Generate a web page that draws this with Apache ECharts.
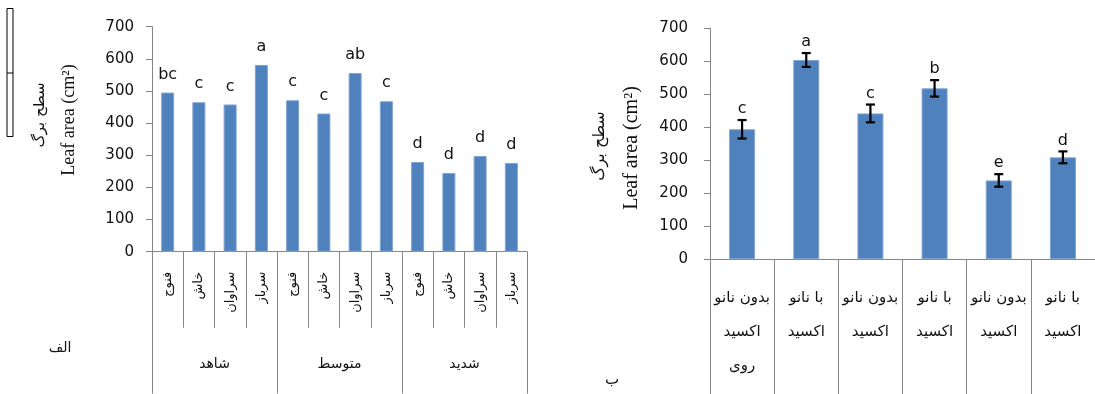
<!DOCTYPE html>
<html>
<head>
<meta charset="utf-8">
<script src="https://cdn.jsdelivr.net/npm/echarts@6/dist/echarts.min.js"></script>
<style>
  html, body { margin: 0; padding: 0; background: #ffffff; }
  #chart { width: 1095px; height: 394px; }
</style>
</head>
<body>
<div id="chart"></div>
<script>
// Panel A: leaf area of four ecotypes under three drought levels
const ecotypes = ['فنوج', 'خاش', 'سراوان', 'سرباز',
                  'فنوج', 'خاش', 'سراوان', 'سرباز',
                  'فنوج', 'خاش', 'سراوان', 'سرباز'];
const stressLevels = ['شاهد', 'متوسط', 'شدید'];
const leafAreaA = [495, 465, 458, 581, 471, 430, 556, 468, 279, 245, 298, 276];
const lettersA = ['bc', 'c', 'c', 'a', 'c', 'c', 'ab', 'c', 'd', 'd', 'd', 'd'];

// Panel B: leaf area with / without zinc oxide nanoparticles
const treatments = ['بدون نانو\nاکسید\nروی', 'با نانو\nاکسید', 'بدون نانو\nاکسید',
                    'با نانو\nاکسید', 'بدون نانو\nاکسید', 'با نانو\nاکسید'];
const leafAreaB = [394, 604, 442, 518, 239, 309];
const errorB = [28, 21, 27, 25, 19, 18];
const lettersB = ['c', 'a', 'c', 'b', 'e', 'd'];

// Value axis settings shared by both panels
const yMin = 0, yMax = 700, yStep = 100;

const AXIS = '#868686';
const BAR = '#4f81bd';
const TEXT = '#111111';
const NUM_FONT = 'DejaVu Sans';
const FA_FONT = 'DejaVu Sans';
const EN_FONT = 'Liberation Serif';

const chart = echarts.init(document.getElementById('chart'), null, { renderer: 'canvas' });

function valueAxis(gridIndex, margin) {
  return {
    type: 'value', gridIndex, min: yMin, max: yMax, interval: yStep,
    axisLine: { show: true, lineStyle: { color: AXIS, width: 1 } },
    axisTick: { show: true, length: 6, lineStyle: { color: AXIS } },
    splitLine: { show: false },
    axisLabel: { color: TEXT, fontFamily: NUM_FONT, fontSize: 15, margin }
  };
}

const option = {
  animation: false,
  backgroundColor: '#ffffff',
  grid: [
    { left: 152, top: 26.7, width: 375, height: 225 },
    { left: 710, top: 28.3, width: 392.4, height: 231 }
  ],
  xAxis: [
    {
      type: 'category', gridIndex: 0, data: ecotypes,
      axisLine: { show: true, lineStyle: { color: AXIS } },
      axisTick: { show: true, interval: 0, length: 76, lineStyle: { color: AXIS } },
      axisLabel: { interval: 0, rotate: 90, margin: 20, color: TEXT,
                   fontFamily: FA_FONT, fontSize: 13 }
    },
    {
      type: 'category', gridIndex: 0, data: stressLevels, position: 'bottom',
      axisLine: { show: false },
      axisTick: { show: true, interval: 0, length: 142, lineStyle: { color: AXIS } },
      axisLabel: { interval: 0, margin: 106, color: TEXT,
                   fontFamily: FA_FONT, fontSize: 14 }
    },
    {
      type: 'category', gridIndex: 1, data: treatments,
      axisLine: { show: true, lineStyle: { color: AXIS } },
      axisTick: { show: true, interval: 0, length: 135, lineStyle: { color: AXIS } },
      axisLabel: { interval: 0, margin: 22, color: TEXT, lineHeight: 34,
                   fontFamily: FA_FONT, fontSize: 15 }
    }
  ],
  yAxis: [valueAxis(0, 18), valueAxis(1, 22)],
  series: [
    {
      type: 'bar', xAxisIndex: 0, yAxisIndex: 0, data: leafAreaA, barWidth: 13,
      itemStyle: { color: BAR, borderColor: '#7fa3d1', borderWidth: 1 },
      label: {
        show: true, position: 'top', distance: 10, color: TEXT,
        fontFamily: NUM_FONT, fontSize: 16,
        formatter: p => lettersA[p.dataIndex]
      }
    },
    {
      type: 'bar', xAxisIndex: 2, yAxisIndex: 1, data: leafAreaB, barWidth: 26,
      itemStyle: { color: BAR, borderColor: '#7fa3d1', borderWidth: 1 }
    },
    {
      // error bars with the significance letter placed above each cap
      type: 'custom', xAxisIndex: 2, yAxisIndex: 1, z: 5,
      data: leafAreaB.map((v, i) => [i, v, errorB[i]]),
      renderItem: (params, api) => {
        const i = api.value(0), v = api.value(1), e = api.value(2);
        const hi = api.coord([i, v + e]);
        const lo = api.coord([i, v - e]);
        const hw = 4.5;
        const ls = { stroke: '#000', lineWidth: 2.2 };
        return {
          type: 'group',
          children: [
            { type: 'line', shape: { x1: hi[0], y1: hi[1], x2: lo[0], y2: lo[1] }, style: ls },
            { type: 'line', shape: { x1: hi[0] - hw, y1: hi[1], x2: hi[0] + hw, y2: hi[1] }, style: ls },
            { type: 'line', shape: { x1: lo[0] - hw, y1: lo[1], x2: lo[0] + hw, y2: lo[1] }, style: ls },
            { type: 'text', x: hi[0], y: hi[1] - 3,
              style: { text: lettersB[params.dataIndex], fill: TEXT, fontFamily: NUM_FONT,
                       fontSize: 16, align: 'center', verticalAlign: 'bottom' } }
          ]
        };
      }
    }
  ],
  graphic: [
    // axis titles (Persian above English, rotated)
    { type: 'text', x: 40, y: 115, rotation: Math.PI / 2,
      style: { text: 'سطح برگ', fill: TEXT, fontFamily: FA_FONT, fontSize: 15,
               align: 'center', verticalAlign: 'middle' } },
    { type: 'text', x: 69, y: 120, rotation: Math.PI / 2,
      style: { text: 'Leaf area (cm²)', fill: TEXT, fontFamily: EN_FONT, fontSize: 18,
               align: 'center', verticalAlign: 'middle' } },
    { type: 'text', x: 600, y: 146, rotation: Math.PI / 2,
      style: { text: 'سطح برگ', fill: TEXT, fontFamily: FA_FONT, fontSize: 16,
               align: 'center', verticalAlign: 'middle' } },
    { type: 'text', x: 632, y: 148, rotation: Math.PI / 2,
      style: { text: 'Leaf area (cm²)', fill: TEXT, fontFamily: EN_FONT, fontSize: 20,
               align: 'center', verticalAlign: 'middle' } },
    // panel letters
    { type: 'text', x: 60, y: 348,
      style: { text: 'الف', fill: TEXT, fontFamily: FA_FONT, fontSize: 14,
               align: 'center', verticalAlign: 'middle' } },
    { type: 'text', x: 612, y: 380,
      style: { text: 'ب', fill: TEXT, fontFamily: FA_FONT, fontSize: 15,
               align: 'center', verticalAlign: 'middle' } },
    // small framed box at the left margin
    { type: 'rect', shape: { x: 7, y: 8.5, width: 6, height: 128 },
      style: { fill: 'none', stroke: '#000', lineWidth: 1 } },
    { type: 'line', shape: { x1: 7, y1: 73, x2: 13, y2: 73 },
      style: { stroke: '#000', lineWidth: 1 } }
  ]
};

chart.setOption(option);
</script>
</body>
</html>
